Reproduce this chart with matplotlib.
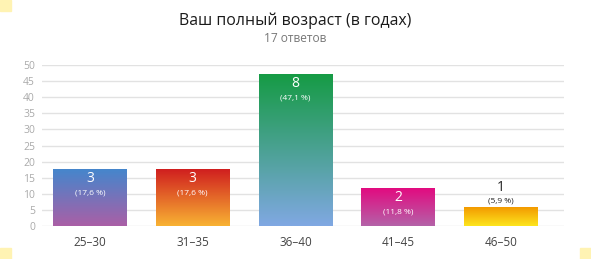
import numpy as np
import matplotlib
matplotlib.use('Agg')
import matplotlib.pyplot as plt
from matplotlib.colors import to_rgb
from matplotlib.patches import Rectangle

plt.rcParams['font.family'] = ['Open Sans', 'DejaVu Sans']

title = 'Ваш полный возраст (в годах)'
subtitle = '17 ответов'
categories = ['25–30', '31–35', '36–40', '41–45', '46–50']
counts = [3, 3, 8, 2, 1]
percents = [17.6, 17.6, 47.1, 11.8, 5.9]
pct_labels = ['(17,6 %)', '(17,6 %)', '(47,1 %)', '(11,8 %)', '(5,9 %)']
yticks = [0, 5, 10, 15, 20, 25, 30, 35, 40, 45, 50]

# top colour, bottom colour
grads = [('#4586cc', '#aa5fa6'), ('#d01f1f', '#f8b233'), ('#169b45', '#80a8e2'),
         ('#e20b80', '#b462a8'), ('#f39a00', '#fde51e')]

fig = plt.figure(figsize=(5.91, 2.59), dpi=100)
ax = fig.add_axes([42/591, 1-226/259, 522/591, 161/259])
ax.set_xlim(-0.467, 4.613)
ax.set_ylim(0, 50)

w = 0.72
for i, (v, (c1, c2)) in enumerate(zip(percents, grads)):
    t = np.linspace(0, 1, 100)[:, None]
    a, b = np.array(to_rgb(c1)), np.array(to_rgb(c2))
    img = (a * (1 - t) + b * t)[:, None, :]
    im = ax.imshow(img, extent=(i - w/2, i + w/2, 0, v), aspect='auto', zorder=2,
                   interpolation='bilinear')
    clip = Rectangle((i - w/2, 0), w, v, transform=ax.transData)
    im.set_clip_path(clip)
    if v > 10:
        ax.annotate(str(counts[i]), (i, v), xytext=(0, -9), textcoords='offset pixels',
                    ha='center', va='center', color='white', fontsize=10, zorder=3)
        ax.annotate(pct_labels[i], (i, v), xytext=(0, -24), textcoords='offset pixels',
                    ha='center', va='center', color='white', fontsize=6, zorder=3)
    else:
        ax.annotate(str(counts[i]), (i, v), xytext=(0, 20), textcoords='offset pixels',
                    ha='center', va='center', color='#222222', fontsize=10, zorder=3)
        ax.annotate(pct_labels[i], (i, v), xytext=(0, 6), textcoords='offset pixels',
                    ha='center', va='center', color='#222222', fontsize=6, zorder=3)

ax.set_xlim(-0.467, 4.613)
ax.set_ylim(0, 50)
ax.set_yticks(yticks)
ax.set_yticklabels([str(y) for y in yticks], fontsize=7.5, color='#aaaaaa')
ax.set_xticks(range(len(categories)))
ax.set_xticklabels(categories, fontsize=8.5, color='#444444')
ax.tick_params(axis='both', length=0)
ax.tick_params(axis='y', pad=5)
ax.tick_params(axis='x', pad=7)
ax.grid(axis='y', color='#e2e2e2', linewidth=1, zorder=0)
ax.set_axisbelow(True)
for s in ax.spines.values():
    s.set_visible(False)

fig.text(0.5, 1-21/259, title, ha='center', va='center', fontsize=11.4, color='#1a1a1a',
         fontweight='medium')
fig.text(0.5, 1-39/259, subtitle, ha='center', va='center', fontsize=8.6, color='#777777')

# decorative corner squares
for (x, y) in [(0, 248), (0, 0), (580, 0)]:
    fig.patches.append(Rectangle((x/591, y/259), 11/591, 11/259, transform=fig.transFigure,
                                 color='#fff3b3', zorder=0))

fig.savefig('out.png', dpi=100)
